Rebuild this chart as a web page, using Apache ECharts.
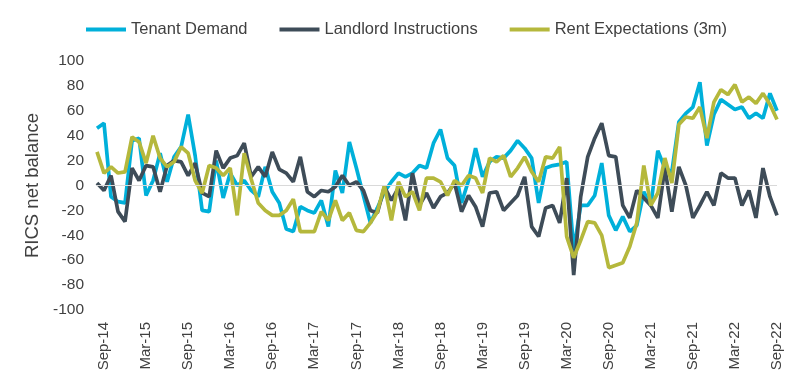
<!DOCTYPE html>
<html>
<head>
<meta charset="utf-8">
<script src="https://cdn.jsdelivr.net/npm/echarts@6/dist/echarts.min.js"></script>
<style>
html,body{margin:0;padding:0;background:#fff;}
#chart{width:800px;height:386px;}
</style>
</head>
<body>
<div id="chart"></div>
<script>
// Monthly categories Aug-14 .. Sep-22
var categories = [
 'Aug-14','Sep-14','Oct-14','Nov-14','Dec-14',
 'Jan-15','Feb-15','Mar-15','Apr-15','May-15','Jun-15','Jul-15','Aug-15','Sep-15','Oct-15','Nov-15','Dec-15',
 'Jan-16','Feb-16','Mar-16','Apr-16','May-16','Jun-16','Jul-16','Aug-16','Sep-16','Oct-16','Nov-16','Dec-16',
 'Jan-17','Feb-17','Mar-17','Apr-17','May-17','Jun-17','Jul-17','Aug-17','Sep-17','Oct-17','Nov-17','Dec-17',
 'Jan-18','Feb-18','Mar-18','Apr-18','May-18','Jun-18','Jul-18','Aug-18','Sep-18','Oct-18','Nov-18','Dec-18',
 'Jan-19','Feb-19','Mar-19','Apr-19','May-19','Jun-19','Jul-19','Aug-19','Sep-19','Oct-19','Nov-19','Dec-19',
 'Jan-20','Feb-20','Mar-20','Apr-20','May-20','Jun-20','Jul-20','Aug-20','Sep-20','Oct-20','Nov-20','Dec-20',
 'Jan-21','Feb-21','Mar-21','Apr-21','May-21','Jun-21','Jul-21','Aug-21','Sep-21','Oct-21','Nov-21','Dec-21',
 'Jan-22','Feb-22','Mar-22','Apr-22','May-22','Jun-22','Jul-22','Aug-22','Sep-22'
];

var tickLabels = ['Sep-14','Mar-15','Sep-15','Mar-16','Sep-16','Mar-17','Sep-17','Mar-18','Sep-18',
                  'Mar-19','Sep-19','Mar-20','Sep-20','Mar-21','Sep-21','Mar-22','Sep-22'];

var tenantDemand = [
 46, 50, -9, -13, -14, 36, 38, -8, 4, 26, 3, 23, 31, 57, 24, -20, -21, 20, -10, 10, 0, 4, -4, -9, 15, -5,
 -14, -35, -37, -17, -20, -22, -12, -33, 12, -6, 35, 14, -8, -30, -18, -5, 3, 10, 7, 10, 16, 14, 34, 45,
 22, 16, -14, 4, 30, 7, 19, 23, 22, 28, 36, 30, 22, -14, 14, 16, 17, 19, -52, -16, -16, -8, 18,
 -24, -36, -25, -37, -32, -5, -16, 28, 14, 11, 51, 58, 63, 83, 32, 57, 69, 65, 61, 63, 54, 58, 54, 74, 60
];

var landlordInstructions = [
 2, -4, 8, -21, -29, 14, 4, 16, 15, -5, 16, 20, 19, 8, 18, -6, -9, 28, 14, 22, 24, 34, 7, 15, 7, 27,
 13, 10, 3, 23, -5, -9, -4, -5, -1, 8, 0, 3, -4, -20, -22, -1, -12, -2, -28, 10, -16, -6, -18, -9,
 -6, 2, -21, -8, -17, -33, -6, -5, -20, -14, -8, 7, -33, -41, -18, -16, -30, 6, -72, -9, 23, 38, 50,
 24, 23, -16, -26, -4, -10, -16, -26, 14, -21, 15, 0, -26, -16, -5, -16, 10, 6, 6, -16, -4, -26, 14, -9, -24
];

var rentExpectations = [
 27, 10, 15, 10, 11, 39, 35, 18, 40, 22, 15, 19, 31, 26, 4, -6, 16, 14, 8, 14, -24, 26, 5, -14, -20, -24,
 -24, -20, -11, -37, -37, -37, -21, -28, -12, -28, -22, -36, -37, -30, -21, 0, -28, 3, -9, -5, -20, 6, 6, 3,
 -8, 4, 0, 8, 6, -6, 22, 19, 24, 7, 14, 23, 11, 3, 23, 22, 31, -41, -58, -44, -29, -30, -40,
 -66, -64, -62, -49, -30, 16, -16, -6, 22, 2, 49, 55, 54, 63, 38, 67, 77, 73, 81, 67, 71, 66, 74, 65, 53
];

var seriesNames = ['Tenant Demand', 'Landlord Instructions', 'Rent Expectations (3m)'];
var seriesColors = ['#00b0da', '#3e4c58', '#b5b83c'];

var chart = echarts.init(document.getElementById('chart'), null, {renderer: 'canvas'});
var textColor = '#404040';
var fontFamily = '"Liberation Sans", Arial, sans-serif';

function mkSeries(name, data, color) {
  return {
    name: name, type: 'line', data: data, symbol: 'none', smooth: false,
    lineStyle: {color: color, width: 3.7}, itemStyle: {color: color}, z: 3
  };
}

chart.setOption({
  animation: false,
  textStyle: {fontFamily: fontFamily},
  legend: {
    top: 16, left: 81, itemWidth: 40, itemHeight: 4, itemGap: 32, icon: 'rect',
    textStyle: {color: textColor, fontSize: 16.5, fontFamily: fontFamily},
    data: seriesNames
  },
  grid: {left: 97, right: 23, top: 61, bottom: 76, containLabel: false},
  xAxis: {
    type: 'category', data: categories, boundaryGap: false,
    axisLine: {show: false}, axisTick: {show: false}, splitLine: {show: false},
    axisLabel: {
      rotate: 90, margin: 12, color: textColor, fontSize: 15, fontFamily: fontFamily,
      interval: function (index, value) { return tickLabels.indexOf(value) >= 0; }
    }
  },
  yAxis: {
    type: 'value', min: -100, max: 100, interval: 20,
    name: 'RICS net balance', nameLocation: 'middle', nameGap: 49, nameRotate: 90,
    nameTextStyle: {color: textColor, fontSize: 18.5, fontFamily: fontFamily},
    axisLine: {show: false}, axisTick: {show: false}, splitLine: {show: false},
    axisLabel: {color: textColor, fontSize: 15.5, margin: 13, fontFamily: fontFamily}
  },
  series: [
    {
      name: 'zero', type: 'line', data: [], z: 1, silent: true,
      markLine: {
        silent: true, symbol: 'none', label: {show: false},
        lineStyle: {color: '#d9d9d9', type: 'solid', width: 1},
        data: [{yAxis: 0}]
      }
    },
    mkSeries(seriesNames[0], tenantDemand, seriesColors[0]),
    mkSeries(seriesNames[1], landlordInstructions, seriesColors[1]),
    mkSeries(seriesNames[2], rentExpectations, seriesColors[2])
  ]
});
</script>
</body>
</html>
